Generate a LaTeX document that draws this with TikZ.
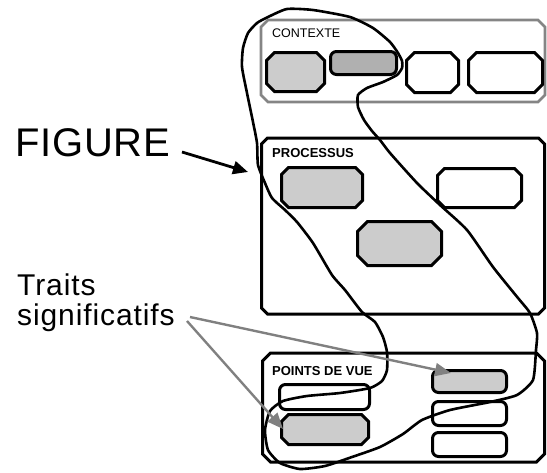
\documentclass[tikz,border=0pt]{standalone}
\usepackage{fontspec}
\setmainfont{Liberation Sans}
\usetikzlibrary{arrows.meta}
\definecolor{lightg}{HTML}{CCCCCC}
\definecolor{darkg}{HTML}{B0B0B0}
\definecolor{frameg}{HTML}{858585}
\definecolor{arrowg}{HTML}{808080}
\newcommand{\chamferbox}[3][]{%
  \draw[chamline,#1] ([xshift=#3]#2.north west) -- ([xshift=-#3]#2.north east)
    -- ([yshift=-#3]#2.north east) -- ([yshift=#3]#2.south east)
    -- ([xshift=-#3]#2.south east) -- ([xshift=#3]#2.south west)
    -- ([yshift=#3]#2.south west) -- ([yshift=-#3]#2.north west) -- cycle;}
\tikzset{
  slot/.style={rectangle, inner sep=0pt, outer sep=0pt, anchor=center},
  chamline/.style={draw, line width=3pt, line join=miter},
  rbox/.style={slot, draw, line width=3pt, rounded corners=6pt},
  gfill/.style={fill=lightg},
  wfill/.style={fill=white},
  lbl/.style={anchor=base west, inner sep=0pt, font=\fontsize{12.5}{15}\selectfont},
  blbl/.style={lbl, font=\fontsize{13}{15}\selectfont\bfseries},
  bigtxt/.style={anchor=base west, inner sep=0pt},
  figline/.style={line width=2.6pt, line join=round},
  blackarrow/.style={line width=2.8pt, -{Triangle[length=15pt,width=13pt]}},
  grayarrow/.style={draw=arrowg, line width=2.4pt, -{Triangle[length=16pt,width=13pt]}, arrowg}
}
\begin{document}
\begin{tikzpicture}[x=1pt,y=-1pt]
\useasboundingbox (0,0) rectangle (547,472);
% outer frames
\node[slot, minimum width=284pt, minimum height=82pt] (ctx) at (403,61) {};
\chamferbox[draw=frameg, line width=2.6pt]{ctx}{7pt}
\node[slot, minimum width=283pt, minimum height=176pt] (proc) at (403,226) {};
\chamferbox{proc}{6pt}
\node[slot, minimum width=282pt, minimum height=109pt] (pdv) at (403.5,407.5) {};
\chamferbox{pdv}{8pt}
% labels
\node[lbl] (tctx) at (272,37.5) {CONTEXTE};
\node[blbl] (tproc) at (272,157) {PROCESSUS};
\node[blbl] (tpdv) at (272,375) {POINTS DE VUE};
% contexte boxes
\node[slot, minimum width=58pt, minimum height=39pt] (c1) at (295.5,72) {};
\chamferbox[gfill]{c1}{8pt}
\node[rbox, fill=darkg, minimum width=66pt, minimum height=23pt] (c2) at (363.5,63) {};
\node[slot, minimum width=52pt, minimum height=40pt] (c3) at (432.5,72.5) {};
\chamferbox[wfill]{c3}{8pt}
\node[slot, minimum width=74pt, minimum height=40pt] (c4) at (505.5,72.5) {};
\chamferbox[wfill]{c4}{8pt}
% processus boxes
\node[slot, minimum width=81pt, minimum height=40pt] (p1) at (322,187.5) {};
\chamferbox[gfill]{p1}{7pt}
\node[slot, minimum width=84pt, minimum height=39pt] (p2) at (479.5,188) {};
\chamferbox[wfill]{p2}{7pt}
\node[slot, minimum width=84pt, minimum height=44pt] (p3) at (399.5,243.5) {};
\chamferbox[gfill]{p3}{10pt}
% points de vue boxes
\node[rbox, wfill, minimum width=90pt, minimum height=25pt] (v1) at (324.5,397) {};
\node[slot, minimum width=87pt, minimum height=30pt] (v2) at (325,429.5) {};
\chamferbox[gfill]{v2}{7pt}
\node[rbox, gfill, minimum width=74pt, minimum height=22pt] (r1) at (469.5,381.5) {};
\node[rbox, wfill, minimum width=74pt, minimum height=24pt] (r2) at (469.5,413.5) {};
\node[rbox, wfill, minimum width=74pt, minimum height=24pt] (r3) at (469.5,444.5) {};
% figure outline
\draw[figline] plot[smooth cycle, tension=0.35] coordinates {
 (287,9) (268,17) (257,23) (248,33) (243,48) (242,67) (247,93) (253,122)
 (257,143) (258,165) (265,183) (272,198) (285,210) (297,222) (313,243)
 (332,275) (345,290) (362,312) (375,322) (383,337) (387,352) (387,370)
 (382,381) (370,388) (340,393) (307,396) (283,401) (270,411) (265,430)
 (268,450) (280,463) (300,469) (325,466) (352,457) (380,447) (403,434)
 (422,420) (450,410) (490,402) (517,395) (533,380) (536,350) (537,333)
 (530,313) (518,298) (493,267) (467,230) (440,205) (417,183) (390,153)
 (380,140) (372,131) (364,120) (358,107) (358,95) (367,88) (383,82)
 (397,75) (402,68) (402,61) (398,53) (390,42) (373,28) (350,17) (313,10)
};
% texts
\node[bigtxt, font=\fontsize{40}{44}\selectfont\addfontfeatures{LetterSpace=2}] (fig) at (15,156) {FIGURE};
\node[bigtxt, font=\fontsize{30}{30}\selectfont\addfontfeatures{LetterSpace=3}] (traits) at (17,295) {Traits};
\node[bigtxt, font=\fontsize{30}{30}\selectfont\addfontfeatures{LetterSpace=3}] (signif) at (17,325) {significatifs};
% arrows
\coordinate (figend) at (182,152);
\coordinate (figtip) at (248,172);
\draw[blackarrow] (figend) -- (figtip);
\coordinate (s1) at (190,317);
\coordinate (s2) at (187,321);
\coordinate (t1) at (451,373);
\coordinate (t2) at (283,429);
\draw[grayarrow] (s1) -- (t1);
\draw[grayarrow] (s2) -- (t2);
\end{tikzpicture}
\end{document}
